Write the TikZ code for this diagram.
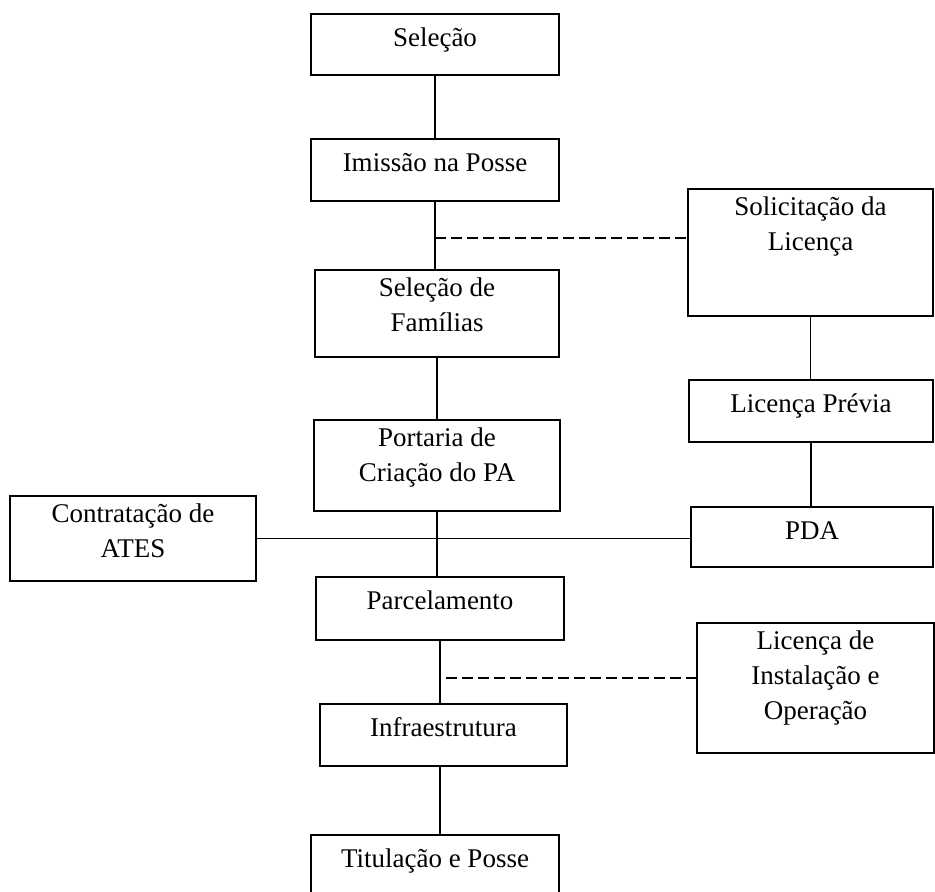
\documentclass[tikz,border=0pt]{standalone}
\usepackage{fontspec}
\setmainfont{Liberation Serif}
\usetikzlibrary{positioning}

\begin{document}
\begin{tikzpicture}[x=1pt,y=-1pt,
            caixa/.style={draw,rectangle,line width=1.4pt,inner sep=0pt},
            rotulo/.style={anchor=north,inner sep=0pt,align=center,yshift=-8.5pt,
              font=\fontsize{27}{35}\selectfont,execute at begin node=\strut},
            liga/.style={draw,line width=1.2pt},
            tracejado/.style={liga,dash pattern=on 11pt off 5pt}
          ]
          \useasboundingbox (0,0) rectangle (935,892);

          %main column
          \node[caixa,minimum width=248,minimum height=61] (selecao) at (435,44.5) {};
          \node[caixa,minimum width=248,minimum height=62] (imissao) at (435,170) {};
          \node[caixa,minimum width=244,minimum height=87] (familias) at (437,313.5) {};
          \node[caixa,minimum width=246,minimum height=91] (portaria) at (437,465.5) {};
          \node[caixa,minimum width=248,minimum height=63] (parcelamento) at (440,608.5) {};
          \node[caixa,minimum width=247,minimum height=62] (infra) at (443.5,735) {};
          \node[caixa,minimum width=248,minimum height=65] (titulacao) at (435,867.5) {};

          %side boxes
          \node[caixa,minimum width=246,minimum height=85] (ates) at (133,538.5) {};
          \node[caixa,minimum width=245,minimum height=127] (solicitacao) at (810.5,252.5) {};
          \node[caixa,minimum width=244,minimum height=62] (previa) at (811,411) {};
          \node[caixa,minimum width=242,minimum height=60] (pda) at (812,537) {};
          \node[caixa,minimum width=237,minimum height=130] (instalacao) at (815.5,688) {};

          %labels
          \node[rotulo] (selecao-t) at (selecao.north) {Seleção};
          \node[rotulo] (imissao-t) at (imissao.north) {Imissão na Posse};
          \node[rotulo] (familias-t) at (familias.north) {Seleção de\\Famílias};
          \node[rotulo] (portaria-t) at (portaria.north) {Portaria de\\Criação do PA};
          \node[rotulo] (parcelamento-t) at (parcelamento.north) {Parcelamento};
          \node[rotulo] (infra-t) at (infra.north) {Infraestrutura};
          \node[rotulo] (titulacao-t) at (titulacao.north) {Titulação e Posse};
          \node[rotulo] (ates-t) at (ates.north) {Contratação de\\ATES};
          \node[rotulo] (solicitacao-t) at (solicitacao.north) {Solicitação da\\Licença};
          \node[rotulo] (previa-t) at (previa.north) {Licença Prévia};
          \node[rotulo] (pda-t) at (pda.north) {PDA};
          \node[rotulo] (instalacao-t) at (instalacao.north) {Licença de\\Instalação e\\Operação};

          \coordinate (d1) at (435,238);
          \coordinate (d2) at (446,678);

          \path[liga]
          (selecao.south) edge (imissao.north)
          (imissao.south) edge (imissao.south |- familias.north)
          (familias.south) edge (familias.south |- portaria.north)
          (portaria.south) edge (portaria.south |- parcelamento.north)
          (parcelamento.south) edge (parcelamento.south |- infra.north)
          (parcelamento.south |- infra.south) edge (parcelamento.south |- titulacao.north)
          (ates.east) edge (ates.east -| pda.west)
          (solicitacao.south) edge (solicitacao.south |- previa.north)
          (previa.south) edge (previa.south |- pda.north)
          ;

          %dashed links
          \path[tracejado]
          (d1) edge (d1 -| solicitacao.west)
          (d2) edge (d2 -| instalacao.west)
          ;

      \end{tikzpicture}
\end{document}
